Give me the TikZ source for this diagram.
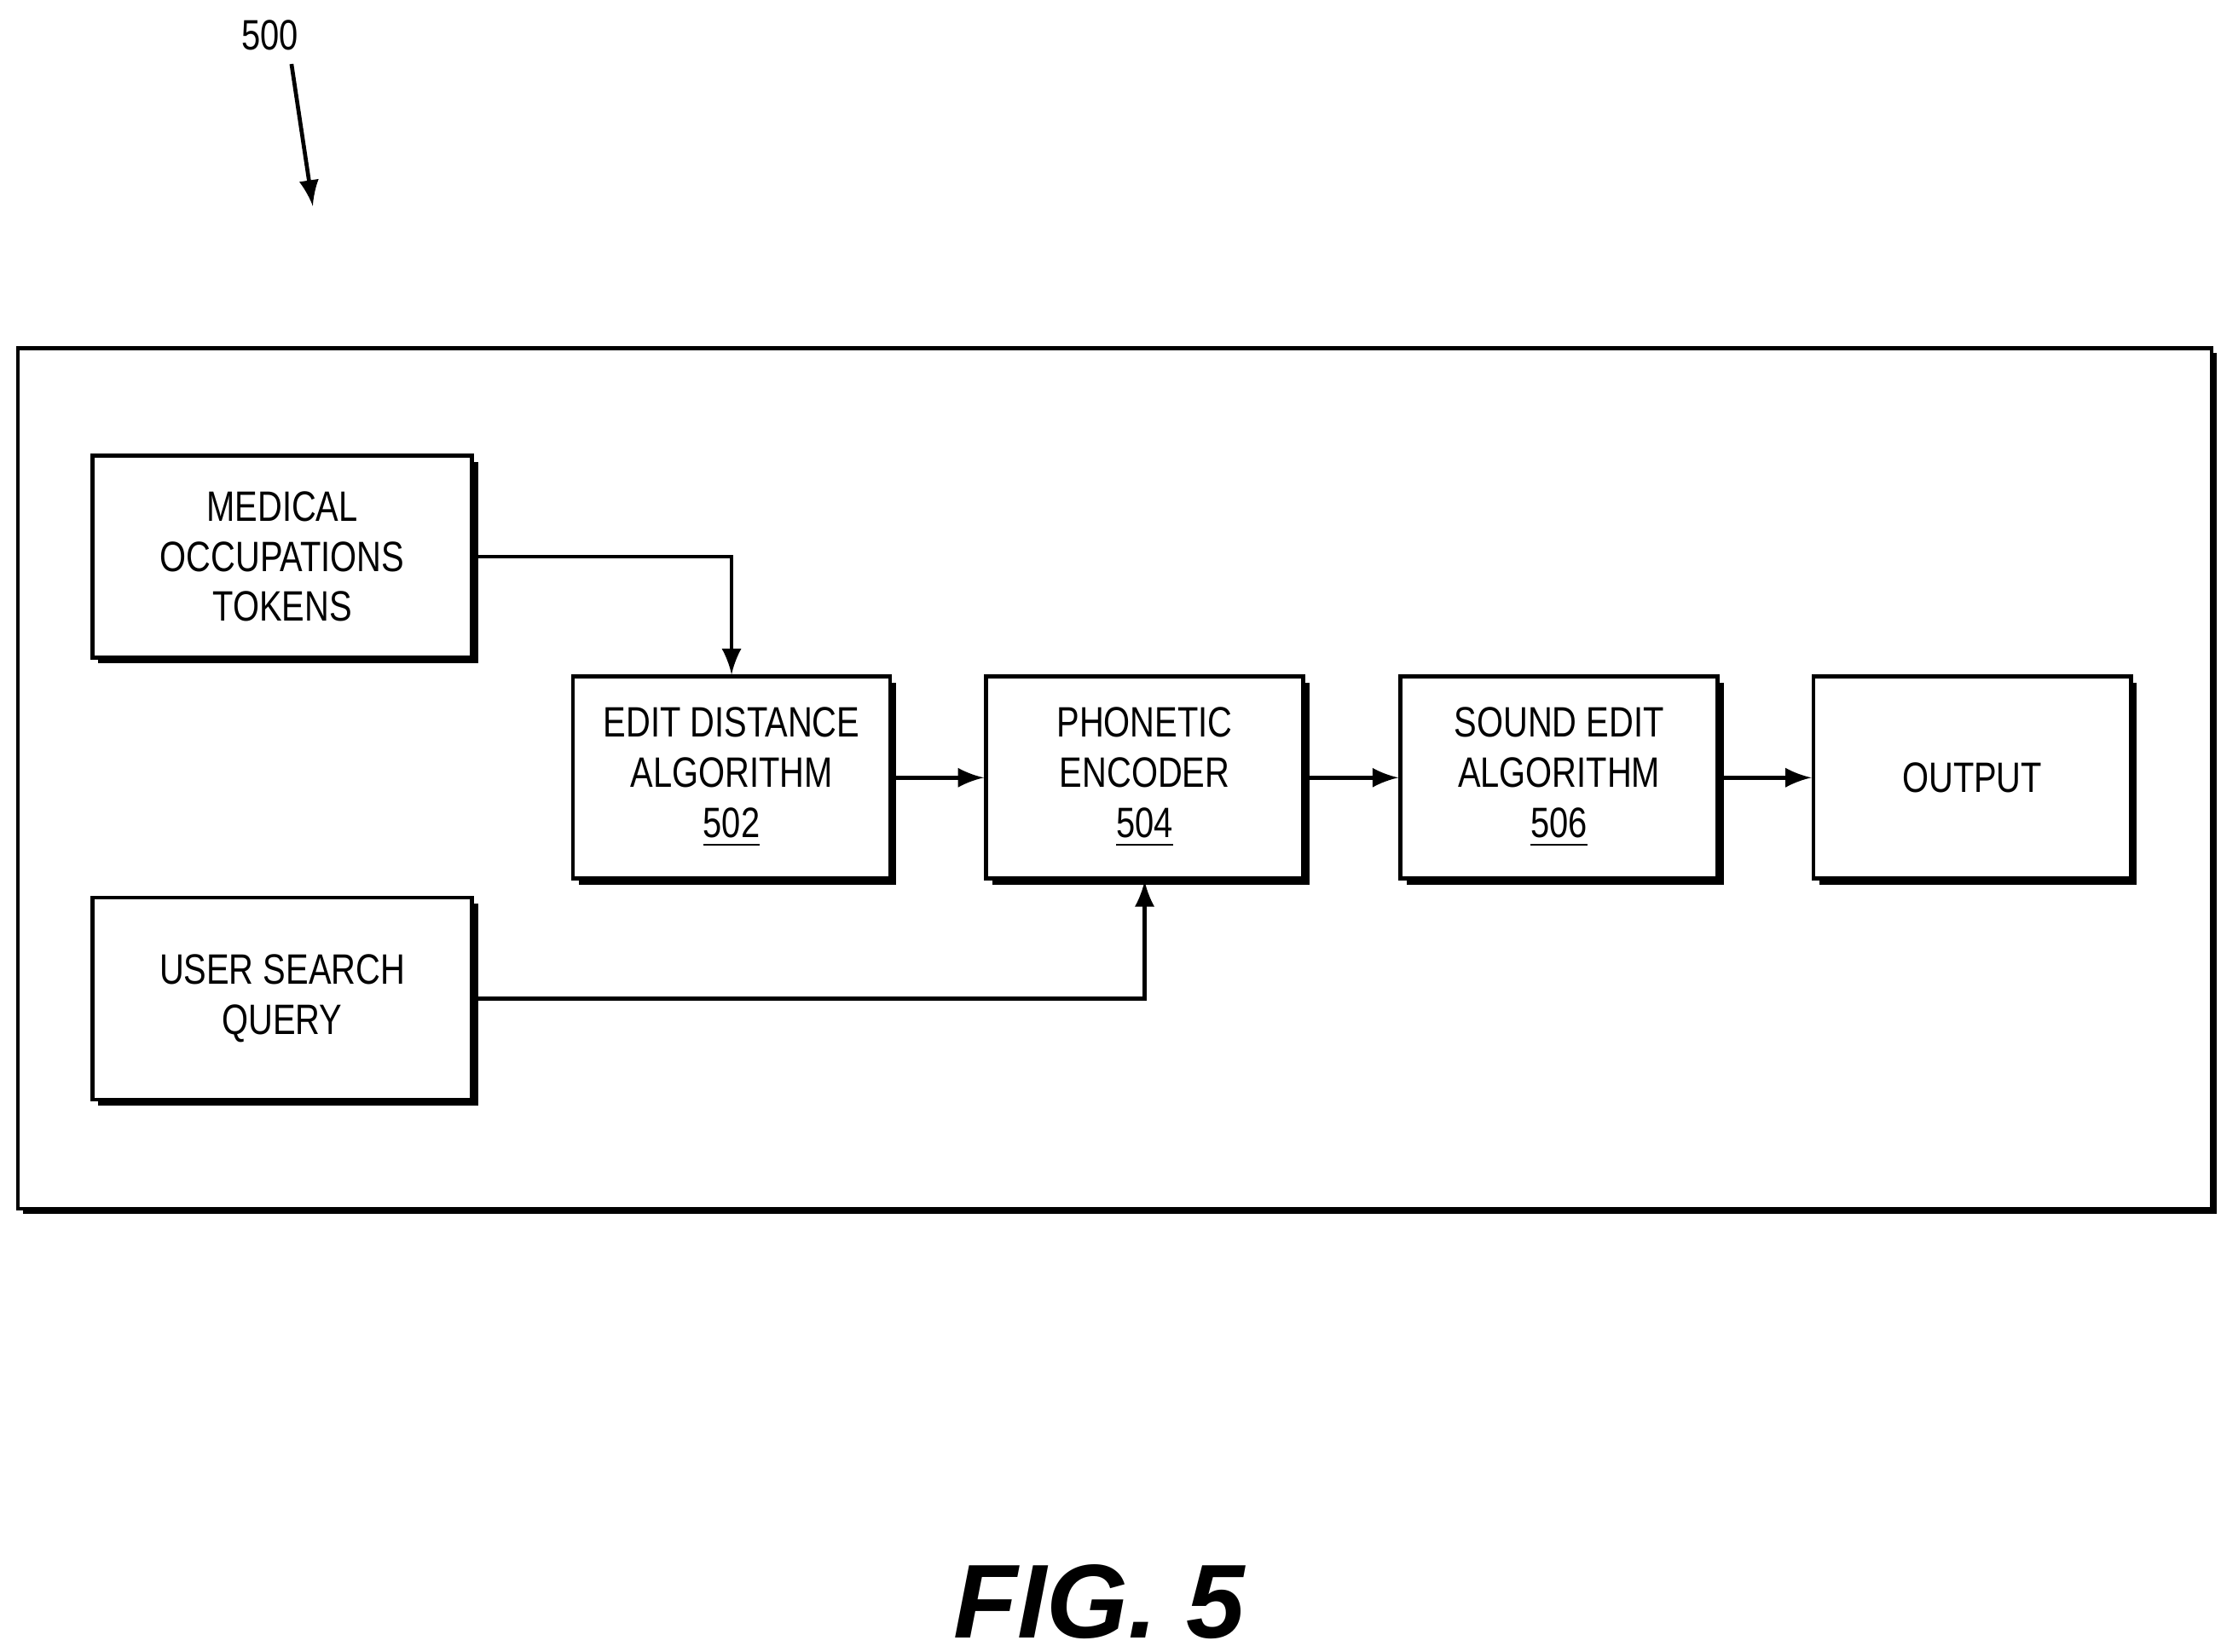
\documentclass[tikz,border=0pt]{standalone}
\usepackage{fontspec}
\setmainfont{Liberation Sans}
\newfontfamily\narrowsf[FakeStretch=0.8]{Liberation Sans}
\usetikzlibrary{positioning,shadows,decorations.pathmorphing}
\begin{document}
\begin{tikzpicture}
    [
        x=0.01cm, y=-0.01cm,
        block/.style={draw, thick, fill=white, align=center, inner sep=1pt,
            font=\narrowsf\fontsize{8.5}{10}\selectfont,
            drop shadow={shadow xshift=1.2pt, shadow yshift=-1.2pt, fill=black, opacity=1},},
        src/.style={block, minimum width=2.67cm, minimum height=1.42cm,},
        stage/.style={block, minimum width=2.23cm, minimum height=1.42cm,},
        flow/.style={-latex, thick,},
    ]
    \useasboundingbox (0,0) rectangle (1562,1162);

    % frame
    \node (frame) at (784,547.5) [draw, thick, minimum width=15.42cm, minimum height=6.05cm,
        drop shadow={shadow xshift=1pt, shadow yshift=-1pt, fill=black, opacity=1}, fill=white] {};

    % sources
    \node (tok) at (198.5,391.5) [src] {MEDICAL\\OCCUPATIONS\\TOKENS};
    \node (qry) at (198.5,702.5) [src] {USER SEARCH\\QUERY};

    % chain
    \node (edit) at (514.5,547) [stage] {EDIT DISTANCE\\ALGORITHM\\\underline{502}};
    \node (enc) at (805,547) [stage] {PHONETIC\\ENCODER\\\underline{504}};
    \node (snd) at (1096.5,547) [stage] {SOUND EDIT\\ALGORITHM\\\underline{506}};
    \node (out) at (1387,547) [stage] {OUTPUT};

    \draw [flow] (tok.east) -| (edit.north);
    \draw [flow] (qry.east) -| (enc.south);
    \draw [flow] (edit) -- (enc);
    \draw [flow] (enc) -- (snd);
    \draw [flow] (snd) -- (out);

    % reference label
    \node (ref) at (190,25) [font=\narrowsf\fontsize{8.5}{10}\selectfont] {500};
    \coordinate (tip) at (220,145);
    \coordinate (s) at (205,45);
    \draw [-latex, thick, decorate, decoration={snake, amplitude=4pt, segment length=40pt, post length=10pt}]
        (s) -- (tip);

    \node (fig) at (773,1127) [font=\fontsize{21}{24}\selectfont\bfseries\itshape] {FIG. 5};
\end{tikzpicture}
\end{document}
